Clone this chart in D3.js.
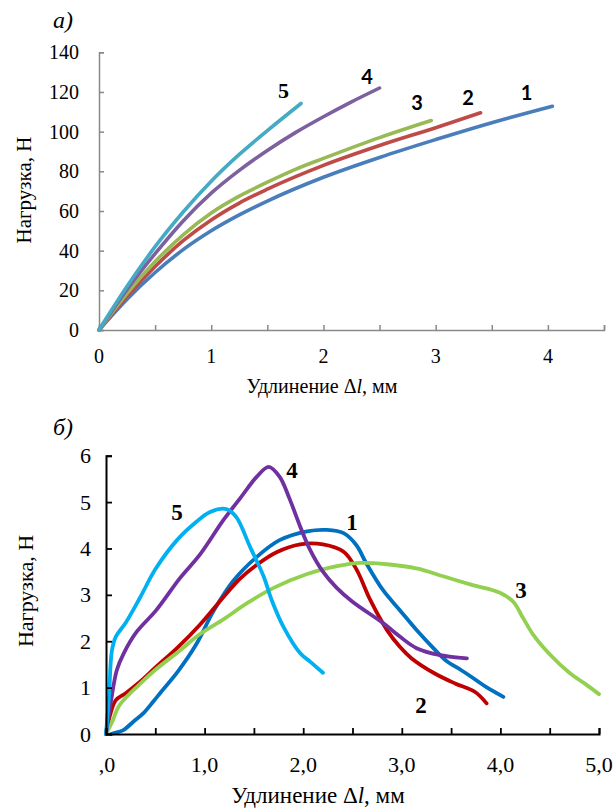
<!DOCTYPE html>
<html><head><meta charset="utf-8">
<script src="https://cdn.jsdelivr.net/npm/d3@7"></script>
<style>body{margin:0;background:#fff}svg{display:block}</style>
</head><body>
<script>
// ---- Panel а) data ----
const topX1 = [0, 0.25, 0.5, 0.75, 1, 1.25, 1.5, 2, 2.5, 3, 3.5, 4.04];
const topY1 = [0, 15.5, 29, 40.5, 50, 58, 65, 77, 87, 96, 104.5, 112.8];
const topX2 = [0, 0.25, 0.5, 0.75, 1, 1.25, 1.5, 2, 2.5, 3, 3.4];
const topY2 = [0, 17, 32, 45, 55.5, 64, 71, 83, 93, 102, 109.5];
const topX3 = [0, 0.25, 0.5, 0.75, 1, 1.25, 1.5, 1.75, 2, 2.5, 2.96];
const topY3 = [0, 18.5, 34.5, 48, 59, 67.5, 74.5, 81, 86.5, 97, 105.6];
const topX4 = [0, 0.25, 0.5, 0.75, 1, 1.25, 1.5, 1.75, 2, 2.25, 2.5];
const topY4 = [0, 20.5, 38.5, 55, 69, 80.5, 90.5, 99.5, 107.5, 115, 122];
const topX5 = [0, 0.25, 0.5, 0.75, 1, 1.25, 1.5, 1.8];
const topY5 = [0, 22, 42, 59.5, 75, 88.5, 100.5, 114.2];
const topXTicks = [0, 1, 2, 3, 4];
const topYTicks = [0, 20, 40, 60, 80, 100, 120, 140];
const topLabels = ["1", "2", "3", "4", "5"];

// ---- Panel б) data ----
const botX1 = [0.05,0.12,0.18,0.28,0.38,0.48,0.56,0.73,0.92,1.09,1.29,1.53,1.76,2.04,2.24,2.41,2.54,2.64,2.81,2.98,3.15,3.32,3.45,3.6,3.7,3.85,4.03];
const botY1 = [0,0.04,0.09,0.27,0.45,0.7,0.91,1.35,1.95,2.65,3.3,3.82,4.18,4.37,4.4,4.33,4.07,3.68,3.1,2.67,2.24,1.85,1.58,1.38,1.24,1.02,0.8];
const botX2 = [0,0.04,0.1,0.2,0.33,0.51,0.72,0.95,1.19,1.36,1.53,1.73,1.97,2.2,2.41,2.54,2.68,2.85,2.98,3.1,3.33,3.54,3.74,3.86];
const botY2 = [0,0.4,0.73,0.88,1.1,1.45,1.85,2.35,2.95,3.35,3.65,3.92,4.09,4.09,3.93,3.55,2.89,2.24,1.88,1.63,1.31,1.09,0.91,0.66];
const botX3 = [0,0.07,0.13,0.33,0.51,0.75,0.95,1.19,1.43,1.7,2.04,2.37,2.58,2.85,3.15,3.42,3.72,3.99,4.13,4.23,4.33,4.5,4.7,4.86,5.0];
const botY3 = [0,0.3,0.6,1.05,1.4,1.8,2.15,2.47,2.82,3.15,3.45,3.63,3.69,3.66,3.57,3.4,3.21,3.05,2.85,2.5,2.15,1.72,1.32,1.08,0.86];
const botX4 = [0,0.05,0.11,0.18,0.31,0.51,0.75,0.95,1.19,1.36,1.53,1.65,1.76,1.86,1.97,2.07,2.2,2.34,2.5,2.81,2.98,3.15,3.39,3.66];
const botY4 = [0,0.7,1.38,1.74,2.2,2.67,3.36,3.86,4.61,5.08,5.55,5.76,5.55,5.08,4.47,3.97,3.5,3.15,2.85,2.39,2.1,1.85,1.7,1.63];
const botX5 = [0,0.03,0.06,0.1,0.2,0.35,0.5,0.72,0.92,1.05,1.22,1.32,1.46,1.6,1.68,1.8,1.97,2.07,2.2];
const botY5 = [0,0.8,1.8,2.1,2.4,2.96,3.55,4.18,4.58,4.78,4.85,4.68,4.04,3.39,2.89,2.31,1.74,1.56,1.32];
const botXTicks = [0, 1, 2, 3, 4, 5];
const botXTickLabels = [",0", "1,0", "2,0", "3,0", "4,0", "5,0"];
const botYTicks = [0, 1, 2, 3, 4, 5, 6];
const botLabels = ["1", "2", "3", "4", "5"];

const xTitle = "Удлинение Δ";
const yTitle = "Нагрузка, Н";

const W = 616, H = 809;
const svg = d3.select("body").append("svg").attr("width", W).attr("height", H);
const serif = "'Liberation Serif','Times New Roman','DejaVu Serif',serif";

function zipXY(xs, ys){ return xs.map((x,i)=>[x, ys[i]]); }

// ================= TOP PANEL =================
{
  const x = d3.scaleLinear().domain([0, 4.5]).range([99, 604]);
  const y = d3.scaleLinear().domain([0, 140]).range([330, 52.3]);
  const g = svg.append("g");
  const axCol = "#898989";
  const colors = ["#4A7EBB", "#BE4B48", "#98B954", "#7D60A0", "#46AAC5"];
  const line = d3.line().x(d=>x(d[0])).y(d=>y(d[1])).curve(d3.curveMonotoneX);
  const series = [zipXY(topX1, topY1), zipXY(topX2, topY2), zipXY(topX3, topY3), zipXY(topX4, topY4), zipXY(topX5, topY5)];

  const xa = g.append("g").attr("transform", `translate(0,${y(0)})`)
    .call(d3.axisBottom(x).tickValues(d3.range(0, 4.51, 0.5)).tickSize(-5).tickFormat(""));
  xa.select(".domain").attr("stroke", axCol).attr("stroke-width", 1.5);
  xa.selectAll(".tick line").attr("stroke", axCol).attr("stroke-width", 1.5);
  g.selectAll(".txl").data(topXTicks).join("text")
    .attr("x", d=>x(d)).attr("y", 363).attr("text-anchor", "middle")
    .attr("font-family", serif).attr("font-size", 20).text(d=>d);

  const ya = g.append("g").attr("transform", `translate(${x(0)},0)`)
    .call(d3.axisLeft(y).tickValues(topYTicks).tickSize(-5).tickFormat(""));
  ya.select(".domain").attr("stroke", axCol).attr("stroke-width", 1.5);
  ya.selectAll(".tick line").attr("stroke", axCol).attr("stroke-width", 1.5);
  g.selectAll(".tyl").data(topYTicks).join("text")
    .attr("x", 79).attr("y", d=>y(d) + 7).attr("text-anchor", "end")
    .attr("font-family", serif).attr("font-size", 20).text(d=>d);

  g.selectAll(".ln").data(series).join("path")
    .attr("d", line).attr("fill", "none")
    .attr("stroke", (d,i)=>colors[i]).attr("stroke-width", 3.6).attr("stroke-linecap", "round");

  const lp = [[526.5,100],[468,105],[417,110],[367,84],[283.5,98]];
  g.selectAll(".lab").data(topLabels).join("text")
    .attr("x", (d,i)=>lp[i][0]).attr("y", (d,i)=>lp[i][1]).attr("text-anchor", "middle")
    .attr("font-family", (d,i)=> i===4 ? serif : "Lato,'Open Sans',sans-serif")
    .attr("font-weight", "bold").attr("font-size", (d,i)=> i===4 ? 22 : 20).text(d=>d);

  const t = g.append("text").attr("x", 322).attr("y", 393).attr("text-anchor", "middle")
    .attr("font-family", serif).attr("font-size", 20);
  t.append("tspan").text(xTitle);
  t.append("tspan").attr("font-style", "italic").text("l");
  t.append("tspan").text(", мм");

  g.append("text").attr("transform", "translate(31,190) rotate(-90)").attr("text-anchor", "middle")
    .attr("font-family", serif).attr("font-size", 21).text(yTitle);

  g.append("text").attr("x", 53).attr("y", 28).attr("font-family", serif)
    .attr("font-style", "italic").attr("font-size", 24).text("а)");
}

// ================= BOTTOM PANEL =================
{
  const x = d3.scaleLinear().domain([0, 5]).range([106, 599]);
  const y = d3.scaleLinear().domain([0, 6]).range([734, 455.7]);
  const g = svg.append("g");
  const colors = ["#0070C0", "#C00000", "#92D050", "#7030A0", "#00B0F0"];
  const line = d3.line().x(d=>x(d[0])).y(d=>y(d[1])).curve(d3.curveCatmullRom.alpha(0.5));
  const series = [zipXY(botX1, botY1), zipXY(botX2, botY2), zipXY(botX3, botY3), zipXY(botX4, botY4), zipXY(botX5, botY5)];

  g.selectAll(".ln").data(series).join("path")
    .attr("d", line).attr("fill", "none")
    .attr("stroke", (d,i)=>colors[i]).attr("stroke-width", 3.8)
    .attr("stroke-linecap", "round").attr("stroke-linejoin", "round");

  const xa = g.append("g").attr("transform", `translate(0,${y(0)})`)
    .call(d3.axisBottom(x).tickValues(d3.range(0, 5.01, 0.5)).tickSize(-6).tickFormat(""));
  xa.select(".domain").attr("stroke", "#000").attr("stroke-width", 2);
  xa.selectAll(".tick line").attr("stroke", "#000").attr("stroke-width", 1.8);
  g.selectAll(".bxl").data(botXTicks).join("text")
    .attr("x", d=>x(d) + (d===0 ? 1 : 0)).attr("y", 772).attr("text-anchor", "middle")
    .attr("font-family", serif).attr("font-size", 22).text((d,i)=>botXTickLabels[i]);

  const ya = g.append("g").attr("transform", `translate(${x(0)},0)`)
    .call(d3.axisLeft(y).tickValues(botYTicks).tickSize(-6).tickFormat(""));
  ya.select(".domain").attr("stroke", "#000").attr("stroke-width", 2);
  ya.selectAll(".tick line").attr("stroke", "#000").attr("stroke-width", 1.8);
  g.selectAll(".byl").data(botYTicks).join("text")
    .attr("x", 91).attr("y", d=>y(d) + 7.5).attr("text-anchor", "end")
    .attr("font-family", serif).attr("font-size", 22).text(d=>d);

  const lp = [[352,530],[421,713],[521,598],[292,478],[177,520]];
  g.selectAll(".lab").data(botLabels).join("text")
    .attr("x", (d,i)=>lp[i][0]).attr("y", (d,i)=>lp[i][1]).attr("text-anchor", "middle")
    .attr("font-family", serif).attr("font-weight", "bold").attr("font-size", 23).text(d=>d);

  const t = g.append("text").attr("x", 318).attr("y", 803).attr("text-anchor", "middle")
    .attr("font-family", serif).attr("font-size", 23);
  t.append("tspan").text(xTitle);
  t.append("tspan").attr("font-style", "italic").text("l");
  t.append("tspan").text(", мм");

  g.append("text").attr("transform", "translate(33,591) rotate(-90)").attr("text-anchor", "middle")
    .attr("font-family", serif).attr("font-size", 22).text(yTitle);

  g.append("text").attr("x", 53).attr("y", 435).attr("font-family", serif)
    .attr("font-style", "italic").attr("font-size", 24).text("б)");
}
</script>
</body></html>
